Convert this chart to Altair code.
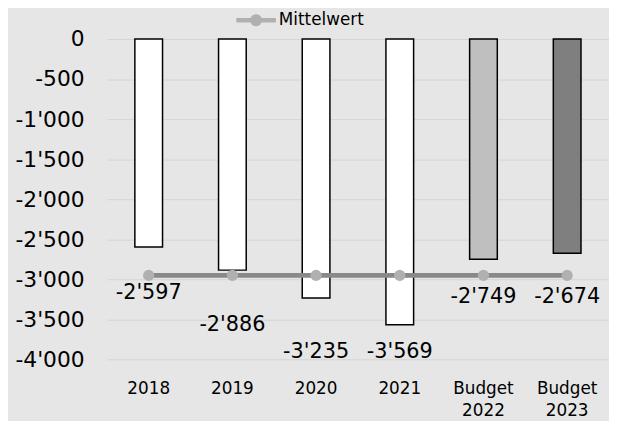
import altair as alt
import pandas as pd

categories = ["2018", "2019", "2020", "2021", "Budget 2022", "Budget 2023"]
values = [-2597, -2886, -3235, -3569, -2749, -2674]
label_pos = [-3167, -3568, -3914, -3914, -3222, -3222]
fills = ["#ffffff", "#ffffff", "#ffffff", "#ffffff", "#bfbfbf", "#7f7f7f"]
y_ticks = [0, -500, -1000, -1500, -2000, -2500, -3000, -3500, -4000]

labels = [f"{v:,}".replace(",", "'") for v in values]
df = pd.DataFrame({
    "cat": categories,
    "v": values,
    "lp": label_pos,
    "fill": fills,
    "lab": labels,
})

FONT = "DejaVu Sans"

x = alt.X(
    "cat:N", sort=categories, title=None,
    scale=alt.Scale(paddingInner=0, paddingOuter=0),
    axis=alt.Axis(labelAngle=0, labelFontSize=17, labelFont=FONT, labelColor="#000000",
                  domain=False, ticks=False, grid=False, labelPadding=22,
                  labelLineHeight=22, labelExpr="split(datum.label, ' ')"),
)
yscale = alt.Scale(domain=[-4000, 0], nice=False, zero=False)
yaxis = alt.Axis(values=y_ticks, title=None, domain=False, ticks=False, grid=True,
                 gridColor="#d4d4d4", gridWidth=1, labelFontSize=22, labelFont=FONT,
                 labelColor="#000000", labelPadding=23,
                 labelExpr="replace(replace(format(datum.value, ','), ',', \"'\"), '\u2212', '-')")

base = alt.Chart(df)

bars = base.mark_bar(size=28, stroke="#000000", strokeWidth=1.5).encode(
    x=x,
    y=alt.Y("v:Q", scale=yscale, axis=yaxis),
    y2=alt.datum(0),
    fill=alt.Fill("fill:N", scale=None),
)

mean_base = base.transform_joinaggregate(m="mean(v)").transform_calculate(series="'Mittelwert'")

line = mean_base.mark_line(color="#898989", strokeWidth=5).encode(
    x=x, y=alt.Y("m:Q", scale=yscale),
)

legend_path = ("M-2,-0.22H2V0.22H-2Z "
               "M0.6,0A0.6,0.6,0,1,1,-0.6,0A0.6,0.6,0,1,1,0.6,0Z")

points = mean_base.mark_point(filled=True, size=130, opacity=1).encode(
    x=x, y=alt.Y("m:Q", scale=yscale),
    color=alt.Color("series:N", scale=alt.Scale(range=["#b0b0b0"]),
                    legend=alt.Legend(title=None, orient="none", legendX=141, legendY=-29,
                                      padding=0, symbolType=legend_path, symbolSize=400,
                                      symbolStrokeWidth=0, labelFontSize=17, labelFont=FONT,
                                      labelColor="#000000", labelOffset=13)),
)

text = base.mark_text(fontSize=21, font=FONT, color="#000000", baseline="middle", align="center").encode(
    x=x, y=alt.Y("lp:Q", scale=yscale), text="lab:N",
)

chart = alt.layer(bars, line, points, text).properties(
    width=508, height=324,
    autosize=alt.AutoSizeParams(type="none"),
    padding={"left": 100, "top": 29, "right": 0, "bottom": 60},
    background="#e6e6e6",
).configure_view(stroke=None)

chart.save("out.html", embed_options={"renderer": "svg", "actions": False})
